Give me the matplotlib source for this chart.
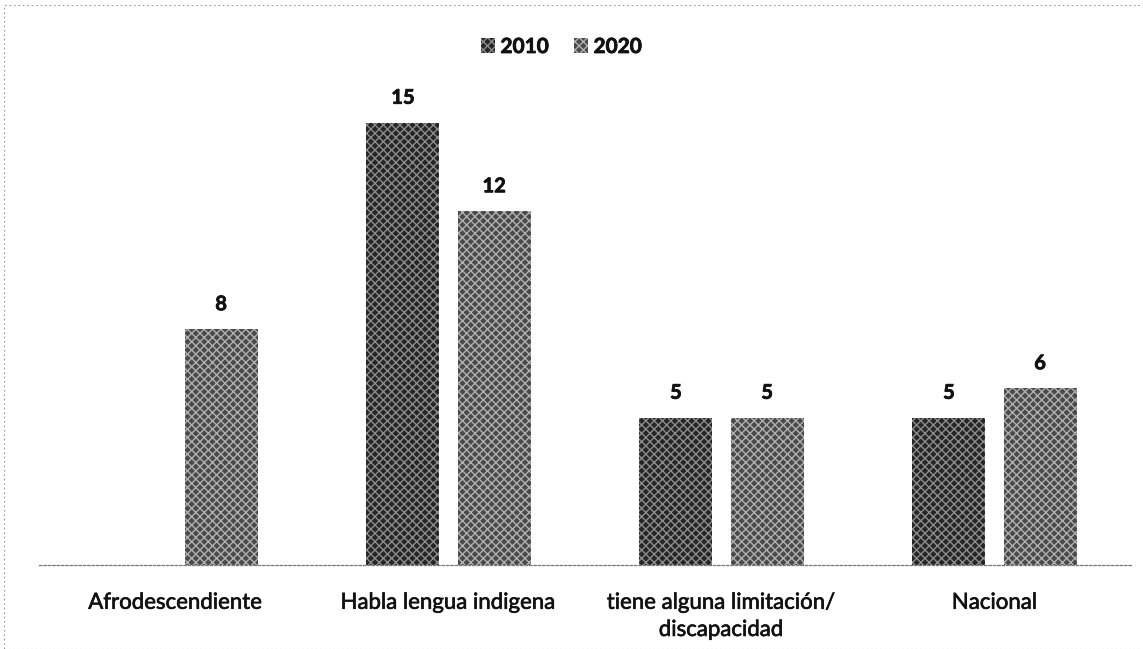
import matplotlib
matplotlib.use("Agg")
import matplotlib.pyplot as plt
from matplotlib.patches import Patch, Rectangle
import matplotlib.patheffects as pe
import numpy as np

categories = ["Afrodescendiente", "Habla lengua indigena",
              "tiene alguna limitación/\ndiscapacidad", "Nacional"]
series_names = ["2010", "2020"]
values_2010 = [None, 15, 5, 5]
values_2020 = [8, 12, 5, 6]

plt.rcParams['font.family'] = ['Lato', 'DejaVu Sans']

W, H = 1143, 649
fig = plt.figure(figsize=(W / 100, H / 100), dpi=100)
fig.patch.set_facecolor('white')

# axes: baseline at y=565 px, x from 39 to 1131 px
ax_left, ax_right = 39, 1131
ax_bottom, ax_top = 565, 93
ax = fig.add_axes([ax_left / W, (H - ax_bottom) / H,
                   (ax_right - ax_left) / W, (ax_bottom - ax_top) / H])

x = np.arange(len(categories))
width = 0.267
off = 0.167

styles = {
    "2010": dict(facecolor='#262626', edgecolor='#8c8c8c', hatch='xxxx'),
    "2020": dict(facecolor='#4a4a4a', edgecolor='#b0b0b0', hatch='xxxx'),
}
thick = [pe.withStroke(linewidth=0.45, foreground='#111111')]
bolder = [pe.withStroke(linewidth=0.55, foreground='#111111')]

for vals, name, sign in [(values_2010, "2010", -1), (values_2020, "2020", 1)]:
    for xi, v in zip(x, vals):
        if v is None:
            continue
        ax.bar(xi + sign * off, v, width, linewidth=0, **styles[name])
        ax.text(xi + sign * off, v + 0.5, f"{v}", ha='center', va='bottom',
                fontsize=14.5, fontweight='bold', color='#111111',
                path_effects=bolder)

ax.set_xlim(-0.5, 3.5)
ax.set_ylim(0, 16)
ax.set_yticks([])
ax.set_xticks(x)
labels = ax.set_xticklabels(categories, fontsize=16, color='#111111',
                            linespacing=1.45)
for t in labels:
    t.set_path_effects(thick)
ax.tick_params(axis='x', length=0, pad=20)
for s in ['top', 'right', 'left']:
    ax.spines[s].set_visible(False)
ax.spines['bottom'].set_color('#777777')
ax.spines['bottom'].set_linestyle((0, (2, 1.5)))
ax.spines['bottom'].set_linewidth(0.9)
ax.set_facecolor('none')

handles = [Patch(label=n, linewidth=0, **styles[n]) for n in series_names]
leg = fig.legend(handles=handles, loc='center', bbox_to_anchor=(0.491, 1 - 47 / H),
                 ncol=2, frameon=False, fontsize=15, handlelength=0.7,
                 handleheight=0.7, handletextpad=0.25, columnspacing=1.2)
for t in leg.get_texts():
    t.set_fontweight('bold')
    t.set_color('#111111')
    t.set_path_effects(bolder)

# dotted scan border
border = Rectangle((4 / W, 0), 1.2, 1 - 5 / H, transform=fig.transFigure,
                   fill=False, edgecolor='#999999', linewidth=0.8,
                   linestyle=(0, (1.5, 2.5)))
fig.patches.append(border)

fig.savefig("out.png", dpi=100, facecolor='white')
